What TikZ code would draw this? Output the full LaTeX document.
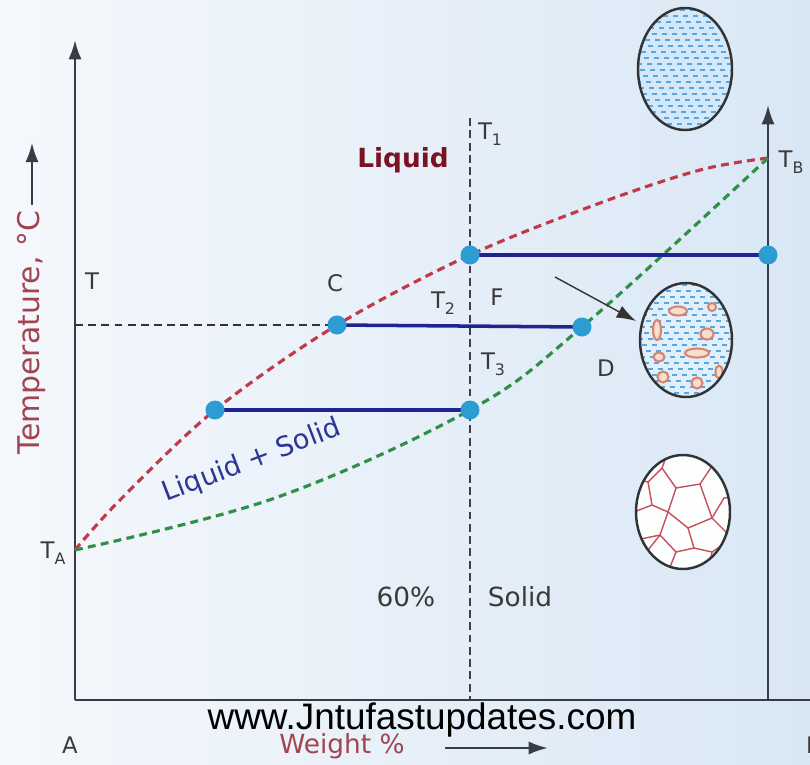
\documentclass[tikz,border=0pt]{standalone}
\usepackage{fontspec}
\setmainfont{DejaVu Sans}
\newfontfamily\webfont{Liberation Sans}
\usepackage{tikz}
\usetikzlibrary{arrows.meta}
\definecolor{bgleft}{HTML}{F5F8FC}
\definecolor{bgright}{HTML}{D9E7F5}
\definecolor{axisgray}{HTML}{383D45}
\definecolor{liqred}{HTML}{C23A4A}
\definecolor{solgreen}{HTML}{2F8F46}
\definecolor{tieblue}{HTML}{1E2590}
\definecolor{dotblue}{HTML}{2C9DD2}
\definecolor{labelgray}{HTML}{3A3A3A}
\definecolor{liquidword}{HTML}{7A1224}
\definecolor{mixblue}{HTML}{2B3592}
\definecolor{tempred}{HTML}{A0454F}
\definecolor{water}{HTML}{D3E8F8}
\definecolor{ripple}{HTML}{5DA6DD}
\definecolor{crystal}{HTML}{D7856E}
\definecolor{crystalfill}{HTML}{F7DED2}
\definecolor{grainline}{HTML}{C94E5C}
\newcommand\idx[1]{\raisebox{-0.45ex}{\fontsize{9}{9}\selectfont #1}}

\begin{document}
\begin{tikzpicture}[x=0.02cm, y=-0.02cm, >={Latex[length=11pt,width=7.5pt]},
                    axis/.style={draw=axisgray, line width=1.5pt},
                    liquidus/.style={draw=liqred, line width=1.8pt, dash pattern=on 4.5pt off 3pt},
                    solidus/.style={draw=solgreen, line width=1.8pt, dash pattern=on 4.5pt off 3pt},
                    tieline/.style={draw=tieblue, line width=2pt},
                    tdash/.style={draw=black!80, line width=1.1pt, dash pattern=on 4.5pt off 3pt},
                    guide/.style={draw=black!75, line width=0.6pt, dash pattern=on 4.5pt off 2.5pt},
                    dot/.style={circle, fill=dotblue, inner sep=0pt, minimum size=0.38cm},
                    lbl/.style={text=labelgray, font=\fontsize{13}{15}\selectfont, inner sep=1pt},
                    rim/.style={draw=black!80, line width=1.4pt},
                    dashmark/.style={draw=ripple, line width=0.9pt},
                    seed/.style={draw=crystal, fill=crystalfill, line width=1.2pt},
                    grain/.style={draw=grainline, line width=0.8pt}]
\useasboundingbox (0,0) rectangle (810,764);
\shade[left color=bgleft, right color=bgright] (0,0) rectangle (810,764);

% axes and reference points
\coordinate (A) at (75,700);
\coordinate (Bend) at (812,700);
\coordinate (Atop) at (75,40);
\coordinate (Bbase) at (768,700);
\coordinate (Btop) at (768,105);
\coordinate (TA) at (75,550);
\coordinate (TB) at (768,158);
\coordinate (T) at (75,325);
\coordinate (top60) at (470,118);
\coordinate (bot60) at (470,700);

% points on the tie lines
\coordinate (F1) at (470,255);
\coordinate (R1) at (768,255);
\coordinate (C) at (337,325);
\coordinate (D) at (582,327);
\coordinate (L3) at (215,410);
\coordinate (S3) at (470,410);

\draw[axis] (A) -- (Bend);
\draw[axis,->] (A) -- (Atop);
\draw[axis,->] (Bbase) -- (Btop);

\draw[tdash] (T) -- (C);
\draw[guide] (top60) -- (bot60);

% liquidus and solidus
\draw[liquidus] plot[smooth, tension=0.55] coordinates {(TA) (120,500) (L3) (C) (F1) (600,203) (700,170) (TB)};
\draw[solidus] plot[smooth, tension=0.6] coordinates {(TA) (275,498) (S3) (D) (TB)};

\draw[tieline] (F1) -- (R1);
\draw[tieline] (C) -- (D);
\draw[tieline] (L3) -- (S3);
\foreach \p in {F1,R1,C,D,L3,S3}
  \node[dot] at (\p) {};

% labels
\node[lbl] (lT) at (92,281) {T};
\node[lbl] (lC) at (335,283) {C};
\node[lbl] (lT1) at (490,134) {T\idx{1}};
\node[lbl] (lT2) at (443,303) {T\idx{2}};
\node[lbl] (lF) at (497,297) {F};
\node[lbl] (lT3) at (493,364) {T\idx{3}};
\node[lbl] (lD) at (606,368) {D};
\node[lbl] (lTA) at (53,553) {T\idx{A}};
\node[lbl] (lTB) at (791,162) {T\idx{B}};
\node[lbl] (lA) at (70,745) {A};
\node[lbl] (lB) at (814,745) {B};
\node[text=liquidword, font=\bfseries\fontsize{15}{17}\selectfont] (liquid) at (403,160) {Liquid};
\node[text=mixblue, font=\fontsize{15.5}{17}\selectfont, rotate=21] (mix) at (252,461) {Liquid + Solid};
\node[text=labelgray, font=\fontsize{15}{17}\selectfont] (p60) at (406,597) {60\%};
\node[text=labelgray, font=\fontsize{15}{17}\selectfont] (solid) at (520,597) {Solid};
\node[text=tempred, font=\fontsize{17}{19}\selectfont, rotate=90] (temp) at (32,333) {Temperature, °C};
\draw[axisgray, line width=1.3pt, ->] (temp.east) -- ++(0,-62);
\node[text=tempred, font=\fontsize{15}{17}\selectfont] (weight) at (342,746) {Weight \%};
\coordinate (wa) at (445,748);
\draw[axisgray, line width=1.5pt, ->] (wa) -- ++(103,0);

% pointer to the partly solid structure
\coordinate (ptr) at (555,277);
\coordinate (ptrend) at (636,321);
\draw[black!80, line width=0.8pt, ->] (ptr) -- (ptrend);

% structures
\coordinate (melt) at (685,69);
\coordinate (mush) at (686,340);
\coordinate (grains) at (683,512);

\begin{scope}
  \clip (melt) ellipse [x radius=47, y radius=61];
  \fill[water] (melt) ellipse [x radius=47, y radius=61];
  \foreach \r in {0,...,20}
    \foreach \c in {0,...,10}
      \draw[dashmark] ({630+10*\c+mod(3*\r,10)},{10+6*\r}) -- ++(5,0);
\end{scope}
\draw[rim] (melt) ellipse [x radius=47, y radius=61];

\begin{scope}
  \clip (mush) ellipse [x radius=46, y radius=57];
  \fill[water!70!white] (mush) ellipse [x radius=46, y radius=57];
  \foreach \r in {0,...,19}
    \foreach \c in {0,...,10}
      \draw[dashmark] ({632+10*\c+mod(4*\r,10)},{285+6*\r}) -- ++(5,0);
  \draw[seed] (678,311) ellipse [x radius=9, y radius=4.5];
  \draw[seed] (657,330) ellipse [x radius=4, y radius=10];
  \draw[seed] (712,307) ellipse [x radius=4, y radius=4];
  \draw[seed] (707,334) ellipse [x radius=6.5, y radius=5.5];
  \draw[seed] (697,353) ellipse [x radius=12, y radius=4.5];
  \draw[seed] (659,357) ellipse [x radius=5.5, y radius=4.5];
  \draw[seed] (663,377) ellipse [x radius=5.5, y radius=5.5];
  \draw[seed] (697,383) ellipse [x radius=5.5, y radius=5.5];
  \draw[seed] (719,372) ellipse [x radius=3.5, y radius=6.5];
\end{scope}
\draw[rim] (mush) ellipse [x radius=46, y radius=57];

\begin{scope}
  \clip (grains) ellipse [x radius=47, y radius=57];
  \fill[white!80!bgleft] (grains) ellipse [x radius=47, y radius=57];
  \draw[grain] (630,478) -- (648,482) -- (662,468) -- (668,452);
  \draw[grain] (662,468) -- (676,488) -- (700,484) -- (712,466) -- (716,452);
  \draw[grain] (648,482) -- (652,505) -- (668,512) -- (676,488);
  \draw[grain] (668,512) -- (688,528) -- (712,518) -- (700,484);
  \draw[grain] (712,518) -- (724,498) -- (740,496);
  \draw[grain] (712,466) -- (730,476);
  \draw[grain] (652,505) -- (634,512);
  \draw[grain] (668,512) -- (660,535) -- (636,540);
  \draw[grain] (660,535) -- (676,552) -- (694,548) -- (688,528);
  \draw[grain] (694,548) -- (712,552) -- (730,540);
  \draw[grain] (712,518) -- (726,532) -- (730,540);
  \draw[grain] (676,552) -- (668,572);
  \draw[grain] (712,552) -- (708,572);
  \draw[grain] (648,550) -- (660,535);
\end{scope}
\draw[rim] (grains) ellipse [x radius=47, y radius=57];

% site address across the foot of the chart
\node[font=\webfont\fontsize{21}{21}\selectfont, text=black] (site) at (422,720) {www.Jntufastupdates.com};
\end{tikzpicture}
\end{document}
